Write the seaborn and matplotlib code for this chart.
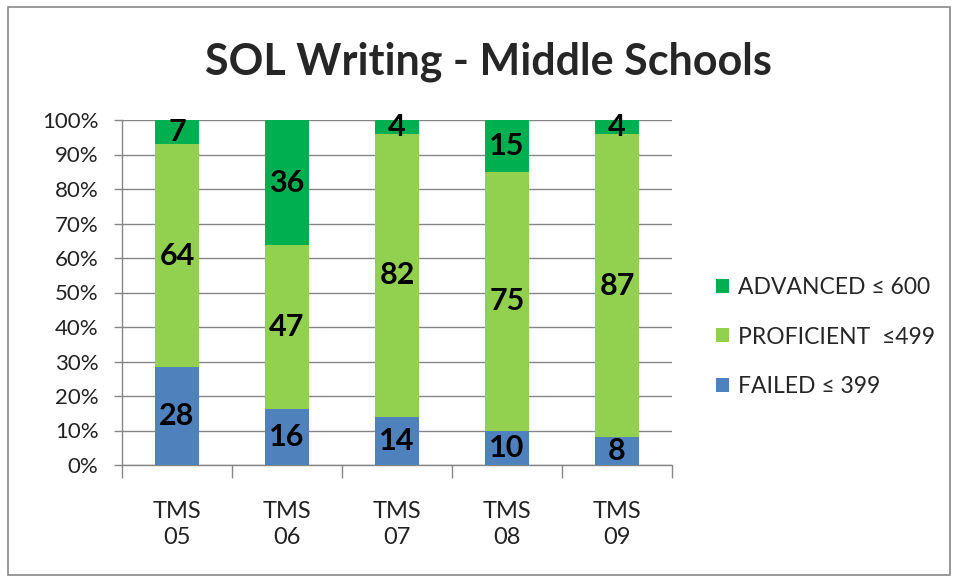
import numpy as np
import matplotlib.pyplot as plt
import seaborn as sns
from matplotlib.patches import Rectangle

# données
schools = ["TMS\n05", "TMS\n06", "TMS\n07", "TMS\n08", "TMS\n09"]
failed = [28, 16, 14, 10, 8]
proficient = [64, 47, 82, 75, 87]
advanced = [7, 36, 4, 15, 4]
series_names = ["FAILED \u2264 399", "PROFICIENT  \u2264499", "ADVANCED \u2264 600"]
colors = ["#4F81BD", "#92D050", "#00B050"]

sns.set_style("white")
plt.rcParams['font.family'] = ['Lato', 'DejaVu Sans']

fig = plt.figure(figsize=(9.59, 5.8), dpi=100)
ax = fig.add_axes([122 / 959, 1 - 465 / 580, 550 / 959, 345 / 580])

series = [failed, proficient, advanced]
totals = np.sum(series, axis=0)
bottom = np.zeros(len(schools))
for vals, name, col in zip(series, series_names, colors):
    pct = np.array(vals) / totals * 100
    sns.barplot(x=schools, y=pct, bottom=bottom, color=col, width=0.4,
                saturation=1, linewidth=0, label=name, ax=ax, zorder=3)
    for i, (v, p) in enumerate(zip(vals, pct)):
        ax.text(i, bottom[i] + p / 2, str(v), ha="center", va="center",
                fontsize=22, fontweight="bold", color="black", zorder=4)
    bottom += pct

handles, labels = ax.get_legend_handles_labels()
if ax.get_legend() is not None:
    ax.get_legend().remove()

ax.set_ylim(0, 100)
ax.set_xlim(-0.5, len(schools) - 0.5)
ax.set_yticks(range(0, 101, 10))
ax.set_yticklabels([f"{t}%" for t in range(0, 101, 10)], fontsize=16, color="#222222")
ax.yaxis.grid(True, color="#868686", linewidth=1, zorder=0)
ax.tick_params(axis="y", length=6, color="#868686", width=1, pad=11, left=True)
ax.tick_params(axis="x", which="major", length=0, labelsize=17, pad=26, labelcolor="#222222")
for lab in ax.get_xticklabels():
    lab.set_linespacing(1.3)
ax.set_xticks(np.arange(-0.5, len(schools)), minor=True)
ax.tick_params(axis="x", which="minor", length=9, color="#868686", width=1, bottom=True)
for s in ["top", "right"]:
    ax.spines[s].set_visible(False)
for s in ["left", "bottom"]:
    ax.spines[s].set_color("#868686")
    ax.spines[s].set_linewidth(1)
ax.set_xlabel("")
ax.set_ylabel("")

fig.legend(handles[::-1], labels[::-1], loc="center left",
           bbox_to_anchor=(716 / 959, 1 - 337 / 580), frameon=False,
           borderpad=0, borderaxespad=0,
           fontsize=16.5, handlelength=0.55, handleheight=0.55,
           handletextpad=0.4, labelspacing=1.25)

fig.suptitle("SOL Writing - Middle Schools", x=488 / 959, y=1 - 62 / 580,
             va="center", fontsize=31, fontweight="bold")

fig.patches.append(Rectangle((8 / 959, 5 / 580), 942 / 959, 568 / 580,
                             transform=fig.transFigure, fill=False,
                             edgecolor="#888888", linewidth=1.2))

fig.savefig("out.png", dpi=100)
